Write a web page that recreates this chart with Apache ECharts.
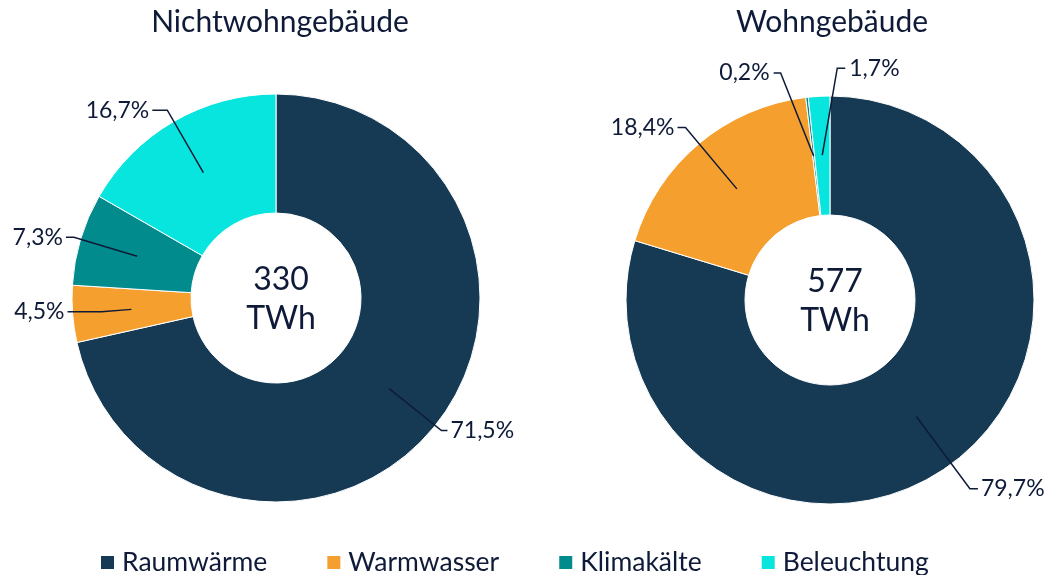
<!DOCTYPE html>
<html>
<head>
<meta charset="utf-8">
<script src="https://cdn.jsdelivr.net/npm/echarts@6/dist/echarts.min.js"></script>
<style>
  html, body { margin: 0; padding: 0; background: #fff; }
  #chart { width: 1046px; height: 575px; }
</style>
</head>
<body>
<div id="chart"></div>
<script>
  // Daten
  const categories = ['Raumwärme', 'Warmwasser', 'Klimakälte', 'Beleuchtung'];
  const nichtwohnShare = [71.5, 4.5, 7.3, 16.7];
  const wohnShare = [79.7, 18.4, 0.2, 1.7];
  const chartTitles = ['Nichtwohngebäude', 'Wohngebäude'];
  const totals = ['330', '577'];
  const unit = 'TWh';

  const colors = ['#163a54', '#f5a02e', '#028b8c', '#08e5de'];
  const textColor = '#0e1a38';
  const font = 'Lato';

  // Länge der Führungslinien (Radial / horizontal)
  const leftLines = [[67, 6], [30, 34], [66, 8], [72, 15]];
  const rightLines = [[90, 8], [80, 8], [0, 0], [0, 0]];
  // Versatz der beiden kleinen Beschriftungen rechts (relativ zum Startpunkt)
  const rightManual = {
    2: { elbow: [-33, -83], end: [-40, -83], align: 'right' },
    3: { elbow: [15, -87], end: [23, -87], align: 'left' }
  };

  const fmt = (p) => p.value.toFixed(1).replace('.', ',') + '%';

  function donut(center, values) {
    return {
      type: 'pie',
      center: center,
      radius: [85, 204],
      startAngle: 90,
      clockwise: true,
      silent: true,
      z: 1,
      label: { show: false },
      labelLine: { show: false },
      itemStyle: { borderColor: '#fff', borderWidth: 1 },
      data: values.map((v, i) => ({
        name: categories[i], value: v, itemStyle: { color: colors[i] }
      }))
    };
  }

  function labels(center, values, lines, manual) {
    return {
      type: 'pie',
      center: center,
      radius: [0, 145],
      startAngle: 90,
      clockwise: true,
      silent: true,
      z: 5,
      avoidLabelOverlap: false,
      itemStyle: { color: 'rgba(0,0,0,0)', borderWidth: 0 },
      label: {
        show: true,
        position: 'outside',
        formatter: fmt,
        fontFamily: font,
        fontSize: 23,
        color: textColor,
        distanceToLabelLine: 3
      },
      labelLine: {
        show: true,
        lineStyle: { color: textColor, width: 1.5 }
      },
      labelLayout: function (p) {
        const m = manual && manual[p.dataIndex];
        if (!m || !p.labelLinePoints) return {};
        const s = p.labelLinePoints[0];
        const e1 = [s[0] + m.elbow[0], s[1] + m.elbow[1]];
        const e2 = [s[0] + m.end[0], s[1] + m.end[1]];
        const gap = m.align === 'left' ? 4 : -4;
        return {
          x: e2[0] + gap,
          y: e2[1],
          align: m.align,
          verticalAlign: 'middle',
          labelLinePoints: [s, e1, e2]
        };
      },
      data: values.map((v, i) => ({
        name: categories[i], value: v,
        labelLine: { length: lines[i][0], length2: lines[i][1] }
      }))
    };
  }

  const chart = echarts.init(document.getElementById('chart'));
  chart.setOption({
    animation: false,
    title: [
      { text: chartTitles[0], left: 275, top: 2, textAlign: 'center',
        textStyle: { fontFamily: font, fontSize: 30, fontWeight: 'normal', color: textColor } },
      { text: chartTitles[1], left: 827, top: 2, textAlign: 'center',
        textStyle: { fontFamily: font, fontSize: 30, fontWeight: 'normal', color: textColor } },
      { text: totals[0] + '\n' + unit, left: 276, top: 255, textAlign: 'center',
        textStyle: { fontFamily: font, fontSize: 32, fontWeight: 'normal', color: textColor, lineHeight: 39 } },
      { text: totals[1] + '\n' + unit, left: 830, top: 257, textAlign: 'center',
        textStyle: { fontFamily: font, fontSize: 32, fontWeight: 'normal', color: textColor, lineHeight: 39 } }
    ],
    legend: {
      left: 94,
      top: 544,
      itemWidth: 15,
      itemHeight: 15,
      itemGap: 58,
      icon: 'rect',
      selectedMode: false,
      textStyle: { fontFamily: font, fontSize: 26.5, color: textColor, padding: [0, 0, 0, 2] },
      data: categories.map((c, i) => ({ name: c, itemStyle: { color: colors[i] } }))
    },
    series: [
      donut([276, 298], nichtwohnShare),
      donut([830, 300], wohnShare),
      labels([276, 298], nichtwohnShare, leftLines, null),
      labels([830, 300], wohnShare, rightLines, rightManual)
    ]
  });
</script>
</body>
</html>
